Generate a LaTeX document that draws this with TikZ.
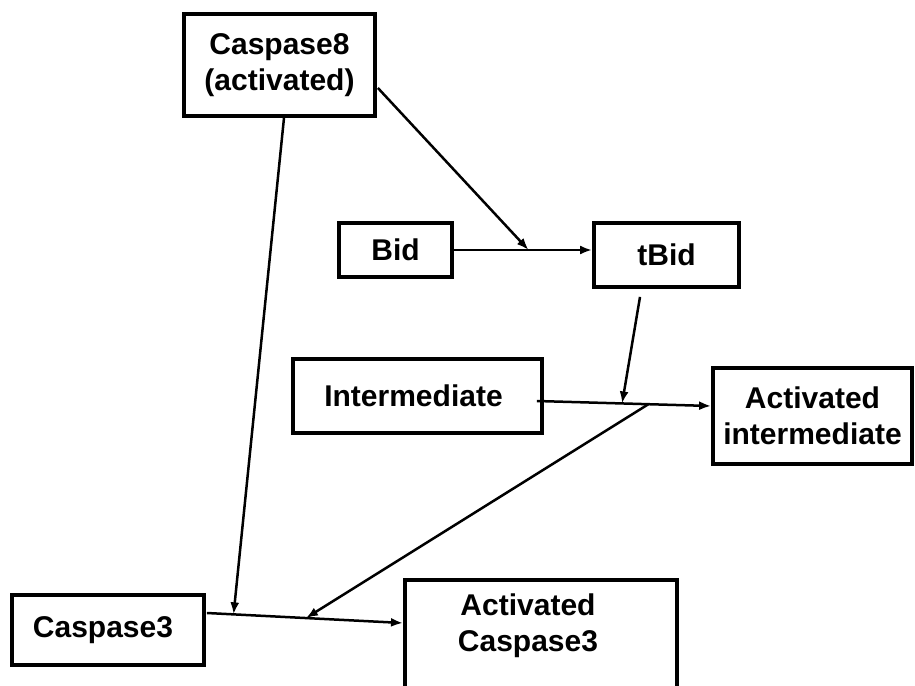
\documentclass[tikz,border=0pt]{standalone}
\usepackage{fontspec}
\setmainfont{Liberation Sans}
\usetikzlibrary{arrows.meta,calc}
\tikzset{
  box/.style={draw=black, line width=3.8pt, rectangle, inner sep=0pt, align=center,
    font=\bfseries\fontsize{30}{36}\selectfont},
  lbl/.style={inner sep=0pt, align=center, font=\bfseries\fontsize{30}{36}\selectfont},
  conn/.style={line width=2.5pt, draw=black},
  arr/.style={conn, -{Latex[length=12pt,width=9pt]}}
}
\begin{document}
\begin{tikzpicture}[x=1pt,y=-1pt]
\useasboundingbox (0,0) rectangle (915,685);
\clip (0,0) rectangle (915,685);
\node[box, minimum width=191pt, minimum height=102pt] (c8) at (279.5,65) {Caspase8\\(activated)};
\node[box, minimum width=113pt, minimum height=54pt] (bid) at (395.5,250) {Bid};
\node[box, minimum width=145pt, minimum height=64pt] (tbid) at (666.5,255) {tBid};
\node[box, minimum width=249pt, minimum height=74pt] (inter) at (417.5,396) {\hspace*{-8pt}Intermediate};
\node[box, minimum width=199pt, minimum height=96pt] (aint) at (812.5,416) {Activated\\intermediate};
\node[box, minimum width=192pt, minimum height=70pt] (c3) at (108,630) {\hspace*{-10pt}Caspase3};
\node[box, minimum width=272pt, minimum height=140pt, anchor=north west] (ac3) at (403,578) {};
\node[lbl] (ac3t) at (528,626) {Activated\\Caspase3};

% Bid -> tBid
\coordinate (tbidin) at (tbid.west |- bid.east);
\draw[arr] ($(bid.east)+(-2,0)$) -- (tbidin);
\coordinate (j1) at ($(bid.east)!0.54!(tbidin)$);
\draw[arr] ($(c8.east)+(1,23)$) -- (j1);

% Intermediate -> Activated intermediate
\coordinate (istart) at ($(inter.east)+(-7,5)$);
\coordinate (iend) at ($(aint.west)+(0,-10)$);
\draw[arr] (istart) -- (iend);
\coordinate (j2) at ($(istart)!0.489!(iend)$);
\coordinate (j3) at ($(istart)!0.64!(iend)$);
\draw[arr] ($(tbid.south)+(-26.5,8)$) -- (j2);

% Caspase3 -> Activated Caspase3
\coordinate (cstart) at ($(c3.east)+(1,-17)$);
\coordinate (cend) at ($(ac3.north west)+(0,45)$);
\draw[arr] (cstart) -- (cend);
\coordinate (j4) at ($(cstart)!0.505!(cend)$);
\coordinate (j5) at ($(cstart)!0.136!(cend)$);
\draw[arr] (j3) -- (j4);
\draw[arr] ($(c8.south)+(4.5,0)$) -- (j5);
\end{tikzpicture}
\end{document}
